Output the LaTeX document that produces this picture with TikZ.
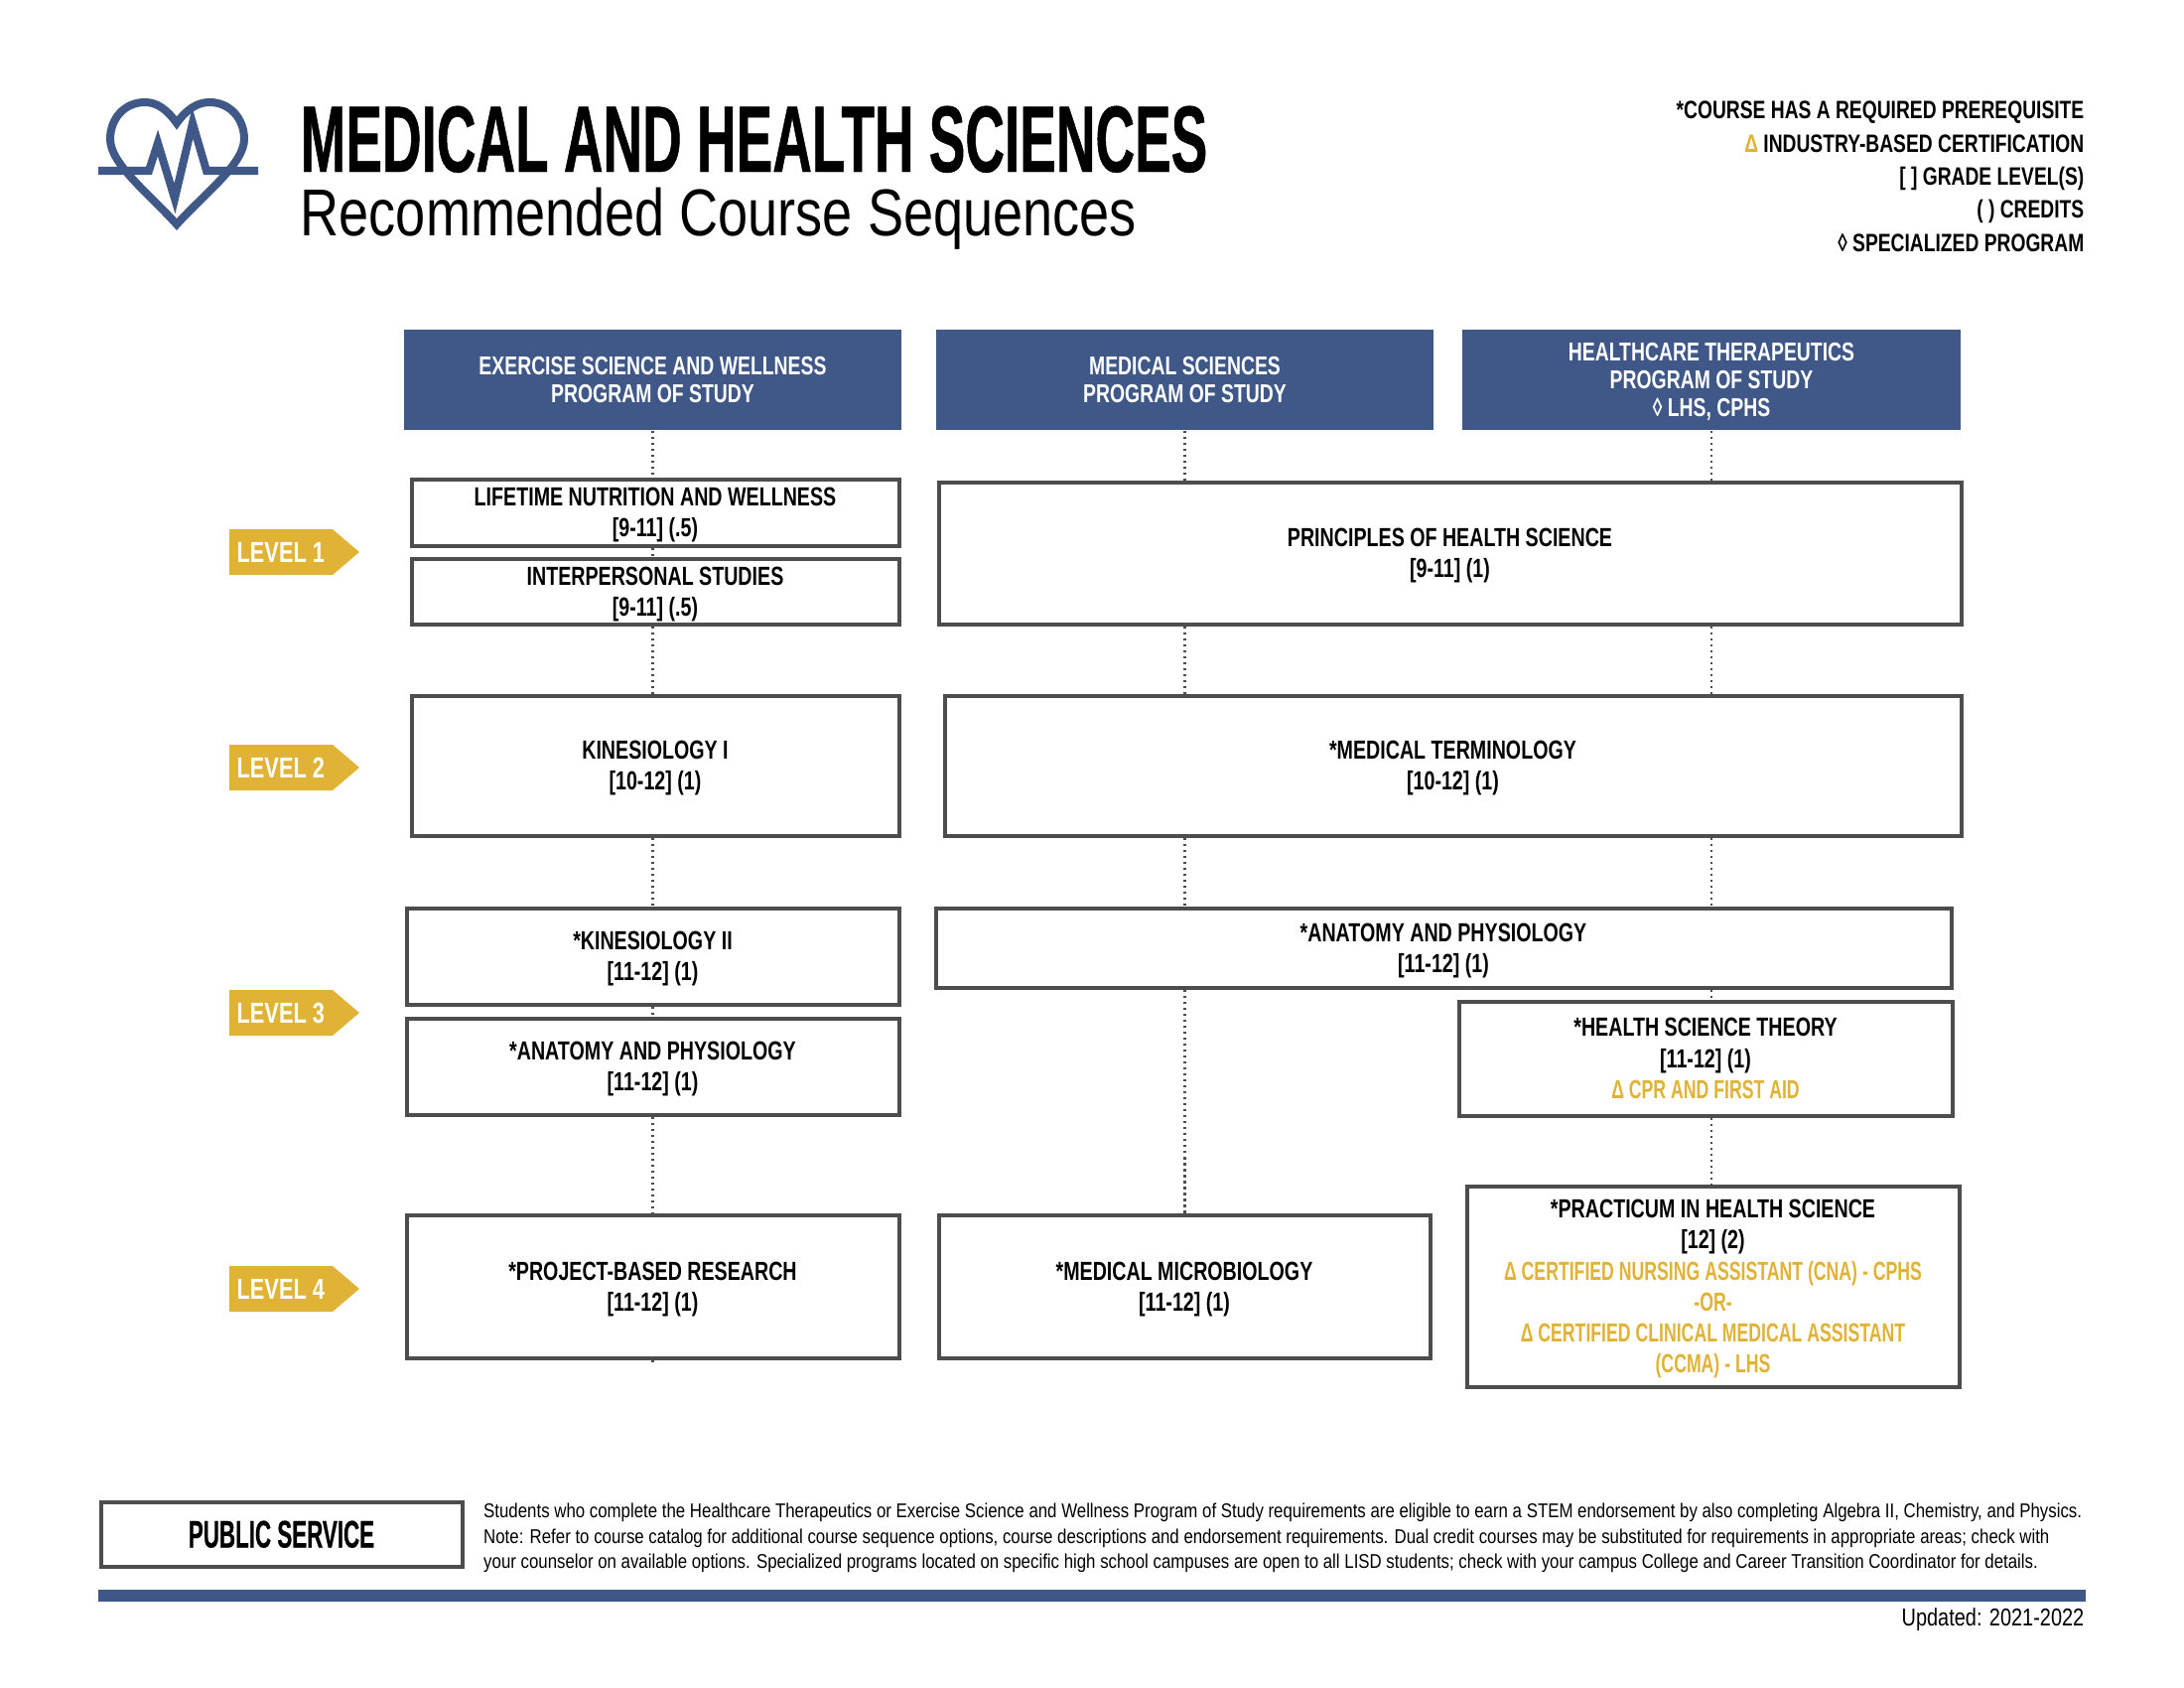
\documentclass[tikz,border=0pt]{standalone}
\usepackage{fontspec}
\usepackage{xcolor}
\usetikzlibrary{positioning}
\setmainfont{Liberation Sans}
\newfontfamily\headfont[FakeStretch=.745]{Liberation Sans Bold}
\newfontfamily\legendfont[FakeStretch=.76]{Liberation Sans Bold}
\newfontfamily\certfont[FakeStretch=.67]{Liberation Sans Bold}
\newfontfamily\titlefont[FakeStretch=.578,FakeBold=.5]{Liberation Sans Bold}
\newfontfamily\thinfont[FakeStretch=.81]{Liberation Sans}
\newfontfamily\notefont[FakeStretch=.84]{Liberation Sans}
\definecolor{navyblue}{HTML}{3F5887}
\definecolor{levelgold}{HTML}{E0B236}
\definecolor{boxgray}{HTML}{4D4D4D}
\newcommand{\certline}[1]{{\certfont\color{levelgold}#1}}

\begin{document}
\begin{tikzpicture}[x=.01cm,y=-.01cm,
    course/.style 2 args={draw=boxgray,line width=.04cm,fill=white,align=center,inner sep=0pt,text depth=-1.5pt,
        minimum width=(#1-3)*.01cm,minimum height=(#2-3)*.01cm,font=\headfont\fontsize{7.5}{8.9}\selectfont},
    program/.style={fill=navyblue,text=white,align=center,inner sep=0pt,text depth=0pt,minimum width=5.01cm,
        minimum height=1.01cm,font=\headfont\fontsize{7.4}{8}\selectfont},
    legend/.style={anchor=base east,inner sep=0pt,font=\legendfont\fontsize{7.2}{8}\selectfont},
    link/.style={draw=boxgray,densely dotted,line width=.025cm}]
    \useasboundingbox (0,0) rectangle (2200,1700);

    \draw[navyblue,line width=.08cm] (178,124) .. controls (168,110) and (158,103) .. (146,103)
        .. controls (125,103) and (111,120) .. (111,140) .. controls (111,165) and (150,195) .. (178,226)
        .. controls (206,195) and (246,165) .. (246,140) .. controls (246,120) and (232,103) .. (211,103)
        .. controls (199,103) and (188,110) .. (178,124) -- cycle;
    \draw[navyblue,line width=.08cm] (99,172) -- (150,172) -- (159,144) -- (176,200) -- (194,124) -- (208,172) -- (260,172);

    \node[anchor=base west,inner sep=0pt,font=\titlefont\fontsize{27}{27}\selectfont] (title) at (302,173) {MEDICAL AND HEALTH SCIENCES};
    \node[anchor=base west,inner sep=0pt,font=\thinfont\fontsize{19}{19}\selectfont] (subtitle) at (302,238) {Recommended Course Sequences};

    \node[legend] (prereq) at (2100,120) {*COURSE HAS A REQUIRED PREREQUISITE};
    \node[legend] (indust) at (2100,154) {\textcolor{levelgold}{Δ} INDUSTRY-BASED CERTIFICATION};
    \node[legend] (grade) at (2100,187) {[ ] GRADE LEVEL(S)};
    \node[legend] (credit) at (2100,219) {( ) CREDITS};
    \node[legend] (special) at (2100,253) {◊ SPECIALIZED PROGRAM};

    \node[program] (hdra) at (657.5,382.5) {EXERCISE SCIENCE AND WELLNESS\\PROGRAM OF STUDY};
    \node[program] (hdrb) at (1193.5,382.5) {MEDICAL SCIENCES\\PROGRAM OF STUDY};
    \node[program] (hdrc) at (1724,382.5) {HEALTHCARE THERAPEUTICS\\PROGRAM OF STUDY\\◊ LHS, CPHS};

    \node[course={494}{70}] (life) at (660,516) {LIFETIME NUTRITION AND WELLNESS\\{[9-11] (.5)}};
    \node[course={494}{69}] (inter) at (660,595.5) {INTERPERSONAL STUDIES\\{[9-11] (.5)}};
    \node[course={1033}{146}] (prin) at (1460.5,557) {PRINCIPLES OF HEALTH SCIENCE\\{[9-11] (1)}};
    \node[course={494}{144}] (kina) at (660,771) {KINESIOLOGY I\\{[10-12] (1)}};
    \node[course={1027}{144}] (term) at (1463.5,771) {*MEDICAL TERMINOLOGY\\{[10-12] (1)}};
    \node[course={499}{100}] (kinb) at (657.5,963) {*KINESIOLOGY II\\{[11-12] (1)}};
    \node[course={499}{100}] (anatl) at (657.5,1074) {*ANATOMY AND PHYSIOLOGY\\{[11-12] (1)}};
    \node[course={1026}{83}] (anatm) at (1454,954.5) {*ANATOMY AND PHYSIOLOGY\\{[11-12] (1)}};
    \node[course={500}{118}] (theory) at (1718,1066) {*HEALTH SCIENCE THEORY\\{[11-12] (1)}\\\certline{Δ CPR AND FIRST AID}};
    \node[course={499}{147}] (proj) at (657.5,1295.5) {*PROJECT-BASED RESEARCH\\{[11-12] (1)}};
    \node[course={498}{147}] (micro) at (1193,1295.5) {*MEDICAL MICROBIOLOGY\\{[11-12] (1)}};
    \node[course={499}{205}] (prac) at (1725.5,1295.5) {*PRACTICUM IN HEALTH SCIENCE\\{[12] (2)}\\
        \certline{Δ CERTIFIED NURSING ASSISTANT (CNA) - CPHS}\\\certline{-OR-}\\
        \certline{Δ CERTIFIED CLINICAL MEDICAL ASSISTANT}\\\certline{(CCMA) - LHS}};
    \coordinate (projend) at (657.5,1373);

    \path[link] (hdra.south) edge (hdra.south |- life.north)
          (hdra.south |- life.south) edge (hdra.south |- inter.north)
          (hdra.south |- inter.south) edge (hdra.south |- kina.north)
          (hdra.south |- kina.south) edge (hdra.south |- kinb.north)
          (hdra.south |- kinb.south) edge (hdra.south |- anatl.north)
          (hdra.south |- anatl.south) edge (hdra.south |- proj.north)
          (hdra.south |- proj.south) edge (projend)
          (hdrb.south) edge (hdrb.south |- prin.north)
          (hdrb.south |- prin.south) edge (hdrb.south |- term.north)
          (hdrb.south |- term.south) edge (hdrb.south |- anatm.north)
          (hdrb.south |- anatm.south) edge (hdrb.south |- micro.north)
          (hdrc.south) edge (hdrc.south |- prin.north)
          (hdrc.south |- prin.south) edge (hdrc.south |- term.north)
          (hdrc.south |- term.south) edge (hdrc.south |- anatm.north)
          (hdrc.south |- anatm.south) edge (hdrc.south |- theory.north)
          (hdrc.south |- theory.south) edge (hdrc.south |- prac.north);

    \foreach \y/\n in {556/1,773/2,1020/3,1298/4} {
        \fill[levelgold] (231,\y-23) -- (335,\y-23) -- (362,\y) -- (335,\y+23) -- (231,\y+23) -- cycle;
        \node[anchor=west,inner sep=0pt,text=white,font=\headfont\fontsize{8.3}{9}\selectfont] (lvl\n) at (238,\y) {LEVEL \n};
    }

    \node[course={367}{68},font=\titlefont\fontsize{11}{12}\selectfont,text depth=0pt] (pub) at (283.5,1545) {PUBLIC SERVICE};
    \node[anchor=west,align=left,inner sep=0pt,yshift=-.04cm,font=\notefont\fontsize{5.7}{7.25}\selectfont,right=.19cm of pub] (note) {Students who complete the Healthcare Therapeutics or Exercise Science and Wellness Program of Study requirements are eligible to earn a STEM endorsement by also completing Algebra II, Chemistry, and Physics.\\
        Note: Refer to course catalog for additional course sequence options, course descriptions and endorsement requirements. Dual credit courses may be substituted for requirements in appropriate areas; check with\\
        your counselor on available options. Specialized programs located on specific high school campuses are open to all LISD students; check with your campus College and Career Transition Coordinator for details.};
    \node[fill=navyblue,inner sep=0pt,minimum width=20cm,minimum height=.12cm] (bar) at (1100,1607) {};
    \node[anchor=base east,inner sep=0pt,font=\thinfont\fontsize{7}{8}\selectfont] (updated) at (2100,1637) {Updated: 2021-2022};
\end{tikzpicture}
\end{document}
